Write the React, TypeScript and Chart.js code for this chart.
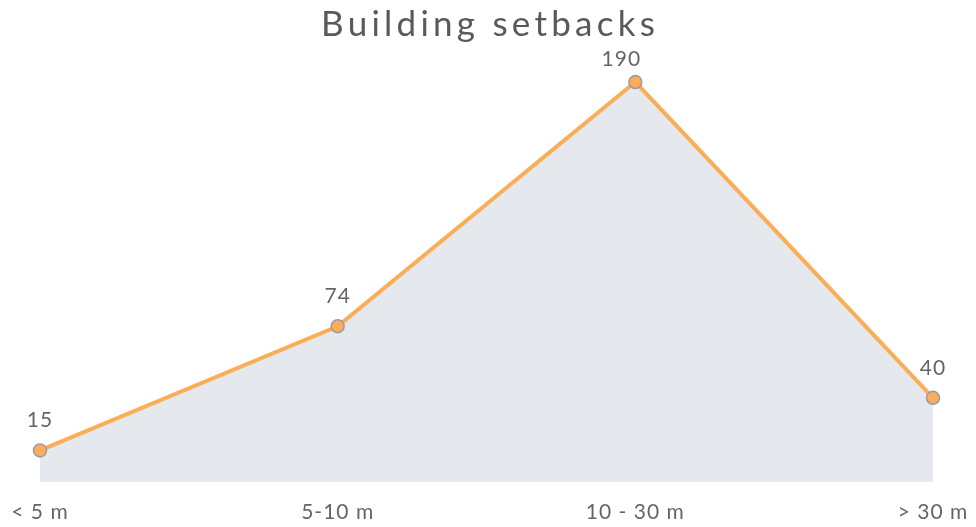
import React, { useEffect, useRef } from "react";
import { Chart, registerables } from "chart.js";

Chart.register(...registerables);

const categories = ["< 5 m", "5-10 m", "10 - 30 m", "> 30 m"];
const setbacks = [15, 74, 190, 40];
const titleText = "Building setbacks";

const FONT = "Lato, 'DejaVu Sans', sans-serif";

const spacingPlugin = {
  id: "spacing",
  beforeDraw(chart: any) {
    (chart.ctx as any).letterSpacing = "1px";
  },
};

const valueLabels = {
  id: "valueLabels",
  afterDatasetsDraw(chart: any) {
    const ctx = chart.ctx;
    const meta = chart.getDatasetMeta(0);
    ctx.save();
    (ctx as any).letterSpacing = "1px";
    ctx.font = `21px ${FONT}`;
    ctx.fillStyle = "#666666";
    ctx.textAlign = "center";
    ctx.textBaseline = "middle";
    meta.data.forEach((pt: any, i: number) => {
      const v = chart.data.datasets[0].data[i];
      let y = pt.y - 30;
      let x = pt.x;
      if (y < 59) {
        y = 59;
        x = pt.x - 14;
      }
      ctx.fillText(String(v), x, y);
    });
    ctx.restore();
  },
};

const titlePlugin = {
  id: "customTitle",
  afterDraw(chart: any) {
    const ctx = chart.ctx;
    ctx.save();
    ctx.font = `35px ${FONT}`;
    (ctx as any).letterSpacing = "0px";
    const w0 = ctx.measureText(titleText).width;
    const target = 338;
    const sp = Math.max(0, (target - w0) / titleText.length);
    (ctx as any).letterSpacing = `${sp}px`;
    ctx.fillStyle = "#595959";
    ctx.textAlign = "center";
    ctx.textBaseline = "alphabetic";
    ctx.fillText(titleText, chart.width / 2 + sp / 2, 36);
    ctx.restore();
  },
};

export default function App() {
  const ref = useRef<HTMLCanvasElement | null>(null);
  useEffect(() => {
    if (!ref.current) return;
    const chart = new Chart(ref.current, {
      type: "line",
      data: {
        labels: categories,
        datasets: [
          {
            data: setbacks,
            borderColor: "#f9ae57",
            borderWidth: 4,
            backgroundColor: "#e5e8ec",
            fill: "origin",
            tension: 0,
            pointRadius: 6.5,
            pointBackgroundColor: "#f9ae57",
            pointBorderColor: "#9d97b0",
            pointBorderWidth: 1.5,
          },
        ],
      },
      options: {
        animation: false,
        responsive: false,
        maintainAspectRatio: false,
        devicePixelRatio: 1,
        layout: { padding: { left: 40, right: 43, top: 61, bottom: 0 } },
        plugins: {
          legend: { display: false },
          tooltip: { enabled: false },
          title: { display: false },
        },
        scales: {
          x: {
            offset: false,
            grid: { display: false, drawTicks: false },
            border: { display: false },
            afterFit(scale: any) {
              scale.height = 45;
              scale.paddingLeft = 0;
              scale.paddingRight = 0;
            },
            ticks: {
              color: "#666666",
              font: { family: FONT, size: 21 },
              padding: 18,
              maxRotation: 0,
              autoSkip: false,
            },
          },
          y: {
            display: false,
            min: 0,
            max: 200,
          },
        },
      },
      plugins: [spacingPlugin, valueLabels, titlePlugin],
    });
    return () => chart.destroy();
  }, []);
  return (
    <div style={{ position: "fixed", left: 0, top: 0, width: 976, height: 527, background: "#ffffff" }}>
      <canvas ref={ref} width={976} height={527} style={{ display: "block", width: 976, height: 527 }} />
    </div>
  );
}
